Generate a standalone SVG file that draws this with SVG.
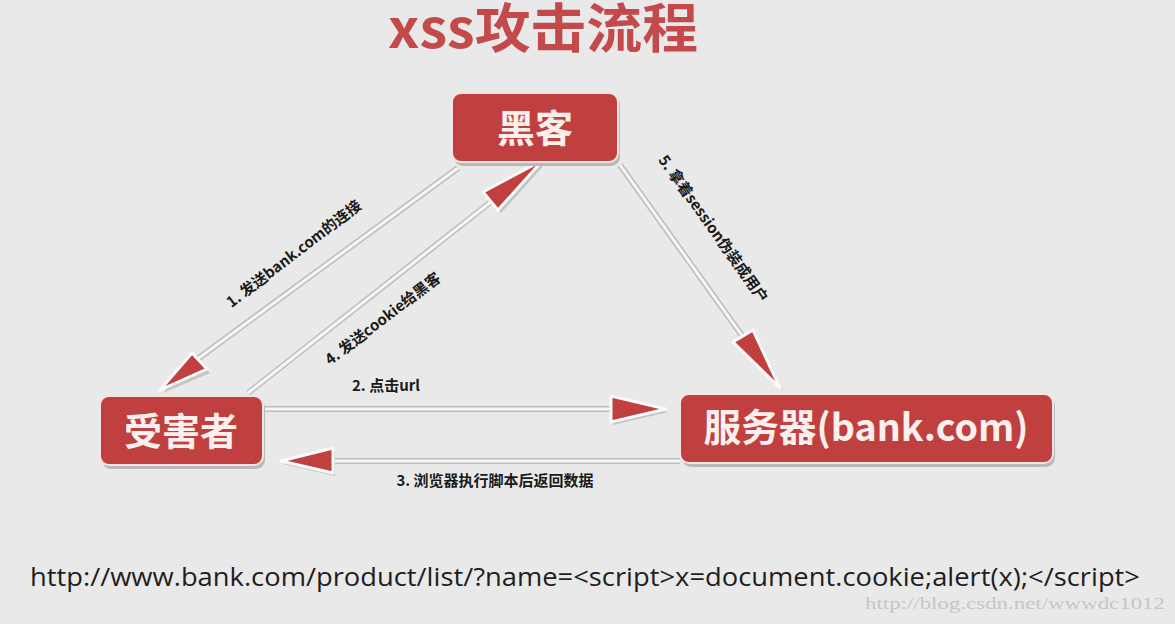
<svg xmlns="http://www.w3.org/2000/svg" width="1175" height="624" viewBox="0 0 1175 624">
<defs>
<style>
.cjk{font-family:"Noto Sans CJK SC","Noto Sans",sans-serif;font-weight:bold}
.box{fill:#c0403f;stroke:#f7e4e2;stroke-width:2}
.boxsh{fill:#b8b8b8}
.nodet{fill:#fbf0ee;font-size:38px;text-anchor:middle}
.lsh{stroke:#bcbcbc;stroke-width:6;fill:none}
.lin{stroke:#f6f6f6;stroke-width:3;fill:none}
.head{fill:#c0403f;stroke:#fafafa;stroke-width:3;stroke-linejoin:round}
.headsh{fill:#c4c4c4}
.lbl{fill:#1a1a1a;font-size:15px}
</style>
</defs>
<rect width="1175" height="624" fill="#e9e9e9"/>
<text class="cjk" x="543" y="48" font-size="53" fill="#c4494b" text-anchor="middle" textLength="310" lengthAdjust="spacingAndGlyphs">xss攻击流程</text>

<g id="connectors">
  <!-- 1 hacker -> victim -->
  <line class="lsh" x1="458" y1="168" x2="192" y2="363"/>
  <line class="lin" x1="458" y1="168" x2="192" y2="363"/>
  <polygon class="headsh" points="163,393 195,357 210,373"/>
  <polygon class="head" points="160,390 192,353 207,369"/>
  <!-- 4 victim -> hacker -->
  <line class="lsh" x1="248" y1="393" x2="492" y2="201"/>
  <line class="lin" x1="248" y1="393" x2="492" y2="201"/>
  <polygon class="headsh" points="546,163 486,195 501,213"/>
  <polygon class="head" points="543,160 483,192 498,210"/>
  <!-- 5 hacker -> server -->
  <line class="lsh" x1="620" y1="165" x2="743" y2="337"/>
  <line class="lin" x1="620" y1="165" x2="743" y2="337"/>
  <polygon class="headsh" points="783,391 736,345 756,333"/>
  <polygon class="head" points="780,388 733,342 753,330"/>
  <!-- 2 victim -> server -->
  <line class="lsh" x1="265" y1="409" x2="612" y2="409"/>
  <line class="lin" x1="265" y1="409" x2="612" y2="409"/>
  <polygon class="headsh" points="668,412 613,399 613,425"/>
  <polygon class="head" points="666,409 611,396 611,422"/>
  <!-- 3 server -> victim -->
  <line class="lsh" x1="680" y1="461" x2="333" y2="461"/>
  <line class="lin" x1="680" y1="461" x2="333" y2="461"/>
  <polygon class="headsh" points="283,464 335,451 335,476"/>
  <polygon class="head" points="281,461 333,448 333,473"/>
  <!-- labels -->
  <text class="cjk lbl" transform="translate(297,258) rotate(-37.5)" text-anchor="middle">1. 发送bank.com的连接</text>
  <text class="cjk lbl" x="386" y="391" text-anchor="middle">2. 点击url</text>
  <text class="cjk lbl" x="495" y="486" text-anchor="middle">3. 浏览器执行脚本后返回数据</text>
  <text class="cjk lbl" transform="translate(386,323) rotate(-37.5)" text-anchor="middle">4. 发送cookie给黑客</text>
  <text class="cjk lbl" transform="translate(709,232) rotate(54.5)" text-anchor="middle">5. 拿着session伪装成用户</text>
</g>

<g id="hacker">
  <rect class="boxsh" x="454" y="96" width="166" height="70" rx="9"/>
  <rect class="box" x="452" y="93" width="166" height="69" rx="9"/>
  <text class="cjk nodet" x="535" y="142">黑客</text>
</g>
<g id="victim">
  <rect class="boxsh" x="102" y="399" width="163" height="70" rx="9"/>
  <rect class="box" x="100" y="396" width="163" height="69" rx="9"/>
  <text class="cjk nodet" x="181" y="445">受害者</text>
</g>
<g id="server">
  <rect class="boxsh" x="682" y="397" width="373" height="70" rx="9"/>
  <rect class="box" x="680" y="394" width="373" height="69" rx="9"/>
  <text class="cjk nodet" x="866" y="441" font-size="36" textLength="325" lengthAdjust="spacingAndGlyphs">服务器(bank.com)</text>
</g>

<text x="30" y="586" font-family="Open Sans, Liberation Sans, sans-serif" font-size="26" fill="#1e1e1e" textLength="1110" lengthAdjust="spacingAndGlyphs">http://www.bank.com/product/list/?name=&lt;script&gt;x=document.cookie;alert(x);&lt;/script&gt;</text>
<text x="865" y="609" font-family="Liberation Serif, serif" font-size="17" fill="#c6c6c6" textLength="300" lengthAdjust="spacingAndGlyphs">http://blog.csdn.net/wwwdc1012</text>
</svg>
